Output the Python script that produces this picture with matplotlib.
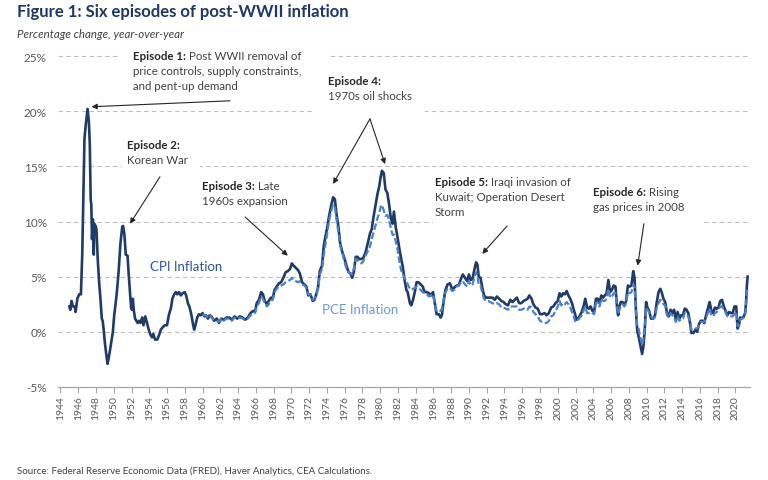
import numpy as np
import matplotlib.pyplot as plt
from matplotlib.patches import Rectangle

plt.rcParams['font.family'] = ['Lato', 'DejaVu Sans']

# CPI inflation, percent change year-over-year
cpi_year = [
    1945.00, 1945.10, 1945.25, 1945.40, 1945.60, 1945.70, 1945.90, 1946.10, 1946.30, 1946.45,
    1946.55, 1946.70, 1946.85, 1947.05, 1947.20, 1947.30, 1947.40, 1947.47, 1947.55, 1947.65,
    1947.75, 1947.80, 1947.95, 1948.05, 1948.20, 1948.35, 1948.50, 1948.65, 1948.75, 1948.85,
    1949.00, 1949.15, 1949.30, 1949.40, 1949.55, 1949.75, 1949.90, 1950.05, 1950.20, 1950.35,
    1950.55, 1950.75, 1950.95, 1951.05, 1951.20, 1951.35, 1951.55, 1951.70, 1951.85, 1951.95,
    1952.05, 1952.15, 1952.25, 1952.40, 1952.55, 1952.70, 1952.85, 1953.00, 1953.20, 1953.35,
    1953.55, 1953.75, 1953.90, 1954.10, 1954.30, 1954.45, 1954.65, 1954.90, 1955.10, 1955.30,
    1955.50, 1955.75, 1956.00, 1956.20, 1956.45, 1956.60, 1956.80, 1957.00, 1957.15, 1957.35,
    1957.55, 1957.75, 1958.00, 1958.15, 1958.35, 1958.55, 1958.75, 1958.90, 1959.05, 1959.20,
    1959.40, 1959.60, 1959.80, 1960.00, 1960.20, 1960.40, 1960.60, 1960.80, 1961.00, 1961.30,
    1961.60, 1961.85, 1962.10, 1962.40, 1962.70, 1963.00, 1963.30, 1963.60, 1963.90, 1964.20,
    1964.50, 1964.80, 1965.10, 1965.40, 1965.70, 1965.90, 1966.10, 1966.35, 1966.60, 1966.80,
    1967.00, 1967.25, 1967.45, 1967.70, 1967.90, 1968.10, 1968.35, 1968.60, 1968.85, 1969.10,
    1969.35, 1969.60, 1969.85, 1970.05, 1970.25, 1970.50, 1970.75, 1970.95, 1971.20, 1971.45,
    1971.70, 1971.90, 1972.15, 1972.40, 1972.60, 1972.80, 1973.00, 1973.20, 1973.45, 1973.65,
    1973.85, 1974.05, 1974.25, 1974.50, 1974.70, 1974.90, 1975.10, 1975.30, 1975.50, 1975.75,
    1976.00, 1976.20, 1976.45, 1976.65, 1976.85, 1977.05, 1977.25, 1977.45, 1977.65, 1977.90,
    1978.10, 1978.35, 1978.60, 1978.85, 1979.05, 1979.25, 1979.50, 1979.70, 1979.90, 1980.05,
    1980.20, 1980.40, 1980.60, 1980.80, 1981.00, 1981.20, 1981.40, 1981.55, 1981.75, 1981.95,
    1982.15, 1982.35, 1982.55, 1982.75, 1982.95, 1983.10, 1983.35, 1983.50, 1983.70, 1983.95,
    1984.10, 1984.30, 1984.55, 1984.80, 1985.00, 1985.25, 1985.50, 1985.75, 1985.95, 1986.15,
    1986.35, 1986.60, 1986.80, 1986.95, 1987.15, 1987.35, 1987.60, 1987.85, 1988.10, 1988.35,
    1988.60, 1988.85, 1989.05, 1989.30, 1989.55, 1989.80, 1990.00, 1990.20, 1990.40, 1990.60,
    1990.80, 1990.95, 1991.10, 1991.30, 1991.55, 1991.70, 1991.90, 1992.15, 1992.40, 1992.65,
    1992.90, 1993.15, 1993.40, 1993.65, 1993.90, 1994.15, 1994.40, 1994.65, 1994.90, 1995.15,
    1995.40, 1995.65, 1995.90, 1996.15, 1996.40, 1996.60, 1996.80, 1997.05, 1997.25, 1997.50,
    1997.75, 1998.00, 1998.25, 1998.50, 1998.75, 1999.00, 1999.25, 1999.50, 1999.75, 2000.00,
    2000.20, 2000.40, 2000.60, 2000.80, 2001.00, 2001.20, 2001.40, 2001.60, 2001.80, 2001.95,
    2002.10, 2002.30, 2002.50, 2002.70, 2002.90, 2003.10, 2003.30, 2003.50, 2003.70, 2003.90,
    2004.10, 2004.30, 2004.50, 2004.70, 2004.90, 2005.10, 2005.30, 2005.50, 2005.70, 2005.90,
    2006.10, 2006.30, 2006.50, 2006.70, 2006.80, 2006.95, 2007.10, 2007.30, 2007.50, 2007.70,
    2007.90, 2008.10, 2008.30, 2008.50, 2008.65, 2008.80, 2008.95, 2009.10, 2009.30, 2009.50,
    2009.65, 2009.80, 2009.95, 2010.10, 2010.30, 2010.50, 2010.75, 2010.95, 2011.15, 2011.35,
    2011.55, 2011.70, 2011.90, 2012.10, 2012.30, 2012.50, 2012.70, 2012.90, 2013.10, 2013.30,
    2013.50, 2013.70, 2013.90, 2014.10, 2014.30, 2014.50, 2014.70, 2014.90, 2015.05, 2015.30,
    2015.50, 2015.70, 2015.90, 2016.10, 2016.30, 2016.50, 2016.70, 2016.90, 2017.10, 2017.30,
    2017.50, 2017.70, 2017.90, 2018.10, 2018.30, 2018.50, 2018.70, 2018.90, 2019.10, 2019.30,
    2019.50, 2019.70, 2019.90, 2020.10, 2020.25, 2020.40, 2020.55, 2020.75, 2020.95, 2021.10,
    2021.20, 2021.30, 2021.38,
]
cpi_value = [
    2.3, 2.0, 2.8, 2.3, 2.3, 1.8, 3.0, 3.4, 3.4, 7.0,
    11.0, 17.5, 18.8, 20.2, 19.0, 17.0, 12.0, 11.5, 8.4, 10.2,
    7.0, 9.8, 9.6, 9.3, 6.5, 4.5, 3.0, 1.2, 1.0, 0.3,
    -1.0, -2.0, -2.9, -2.5, -1.8, -0.8, 0.0, 1.5, 2.5, 3.6,
    5.5, 8.0, 9.5, 9.6, 8.8, 7.0, 6.9, 5.0, 3.3, 2.2,
    2.0, 3.0, 2.0, 1.2, 1.0, 0.8, 1.0, 0.8, 1.3, 0.6,
    1.4, 0.8, 0.3, -0.2, -0.5, -0.2, -0.7, -0.7, -0.3, 0.2,
    0.4, 0.6, 0.6, 1.5, 2.2, 3.0, 3.4, 3.6, 3.4, 3.6,
    3.3, 3.5, 3.6, 3.3, 2.6, 2.2, 1.5, 0.8, 0.2, 0.6,
    1.3, 1.6, 1.5, 1.7, 1.4, 1.5, 1.2, 1.5, 1.4, 1.0,
    1.2, 0.8, 1.2, 1.1, 1.3, 1.3, 1.1, 1.4, 1.2, 1.4,
    1.3, 1.1, 1.3, 1.7, 1.9, 1.8, 2.6, 2.9, 3.6, 3.4,
    2.8, 2.5, 2.8, 3.1, 3.0, 3.8, 4.1, 4.4, 4.5, 4.9,
    5.4, 5.5, 5.7, 6.2, 6.0, 5.8, 5.6, 5.3, 4.5, 4.3,
    4.1, 3.3, 3.4, 2.8, 2.9, 3.4, 4.0, 5.5, 6.0, 7.8,
    8.7, 9.5, 10.5, 11.5, 12.2, 12.0, 10.6, 9.5, 8.0, 7.2,
    6.6, 6.0, 5.4, 5.3, 4.9, 5.5, 6.8, 6.8, 6.6, 6.6,
    6.7, 7.2, 8.0, 8.9, 9.3, 10.4, 11.6, 12.5, 13.2, 14.0,
    14.6, 14.4, 12.9, 12.6, 11.6, 10.3, 9.8, 10.9, 9.5, 8.6,
    7.6, 6.7, 5.9, 4.7, 3.8, 3.6, 2.6, 2.4, 2.9, 3.8,
    4.5, 4.5, 4.3, 4.1, 3.6, 3.6, 3.5, 3.3, 3.6, 2.6,
    1.6, 1.6, 1.3, 1.5, 2.8, 3.8, 4.3, 4.4, 3.9, 4.0,
    4.2, 4.2, 4.7, 5.2, 4.9, 4.6, 5.2, 4.7, 4.8, 5.6,
    6.3, 6.1, 5.0, 4.9, 3.8, 3.3, 3.1, 3.1, 3.1, 3.1,
    2.9, 3.2, 3.0, 2.8, 2.7, 2.5, 2.4, 2.9, 2.7, 2.9,
    3.1, 2.6, 2.6, 2.8, 2.9, 3.0, 3.3, 3.0, 2.5, 2.2,
    2.1, 1.6, 1.6, 1.7, 1.5, 1.7, 2.2, 2.3, 2.6, 2.8,
    3.5, 3.2, 3.5, 3.4, 3.7, 3.3, 3.0, 2.6, 2.0, 1.6,
    1.1, 1.2, 1.5, 1.8, 2.3, 3.0, 2.2, 2.1, 2.3, 1.9,
    1.8, 3.0, 3.0, 2.6, 3.3, 3.1, 3.3, 3.5, 4.7, 3.6,
    3.8, 4.2, 4.1, 2.0, 1.5, 2.3, 2.7, 2.7, 2.4, 2.8,
    4.2, 4.1, 4.2, 5.5, 4.9, 2.0, 0.1, -0.4, -1.2, -2.0,
    -1.3, 0.2, 2.7, 2.2, 1.9, 1.2, 1.2, 1.5, 2.7, 3.6,
    3.9, 3.6, 3.0, 2.7, 1.7, 1.4, 2.0, 1.7, 2.0, 1.1,
    1.8, 1.2, 1.5, 1.5, 2.1, 2.0, 1.7, 0.8, -0.1, -0.1,
    0.2, 0.0, 0.7, 1.0, 1.0, 0.8, 1.5, 2.1, 2.7, 1.9,
    1.7, 2.2, 2.1, 2.2, 2.8, 2.9, 2.3, 1.9, 1.5, 1.8,
    1.7, 1.7, 2.3, 2.3, 0.3, 0.6, 1.3, 1.2, 1.4, 1.7,
    2.6, 4.2, 5.0,
]

# PCE inflation, percent change year-over-year
pce_year = cpi_year[93:]
pce_value = [
    1.6, 1.5, 1.5, 1.3, 1.5, 1.3, 1.1,
    1.0, 0.9, 1.2, 1.0, 1.2, 1.2, 1.0, 1.3, 1.2, 1.3,
    1.2, 1.1, 1.2, 1.5, 1.6, 1.7, 2.3, 2.6, 3.2, 3.0,
    2.6, 2.3, 2.5, 2.8, 2.9, 3.6, 3.9, 4.1, 4.2, 4.3,
    4.5, 4.6, 4.7, 4.9, 4.7, 4.6, 4.5, 4.6, 4.3, 4.2,
    4.0, 3.4, 3.4, 2.9, 3.0, 3.4, 3.9, 5.2, 5.7, 7.0,
    8.0, 9.0, 10.1, 11.0, 11.5, 11.3, 10.1, 9.0, 7.8, 7.1,
    6.3, 5.7, 5.4, 5.3, 5.2, 5.8, 6.6, 6.5, 6.3, 6.2,
    6.4, 6.9, 7.3, 7.7, 8.4, 9.0, 9.7, 10.3, 10.8, 11.3,
    11.5, 11.0, 10.5, 10.6, 10.2, 9.4, 8.8, 8.8, 8.2, 7.5,
    6.5, 5.6, 5.3, 4.8, 4.7, 4.3, 3.9, 3.8, 3.9, 4.0,
    4.1, 4.0, 3.8, 3.6, 3.5, 3.4, 3.2, 3.3, 3.4, 2.6,
    1.9, 2.0, 1.9, 2.0, 2.9, 3.6, 3.9, 4.0, 3.7, 3.8,
    4.1, 4.2, 4.4, 4.6, 4.3, 4.1, 4.6, 4.2, 4.3, 4.9,
    5.4, 5.1, 4.3, 4.2, 3.4, 3.0, 2.8, 2.8, 2.7, 2.6,
    2.5, 2.6, 2.5, 2.2, 2.2, 2.1, 2.0, 2.3, 2.3, 2.3,
    2.3, 2.0, 2.0, 2.1, 2.1, 2.0, 2.3, 2.2, 1.8, 1.6,
    1.4, 1.0, 0.9, 0.8, 0.8, 1.0, 1.4, 1.5, 1.9, 2.3,
    2.8, 2.4, 2.6, 2.5, 2.7, 2.5, 2.2, 1.8, 1.4, 1.0,
    0.9, 1.1, 1.3, 1.5, 1.9, 2.3, 1.7, 1.7, 1.8, 1.7,
    1.6, 2.6, 2.6, 2.3, 3.0, 2.8, 2.8, 3.0, 3.9, 3.1,
    3.2, 3.5, 3.5, 2.1, 1.6, 2.1, 2.3, 2.5, 2.3, 2.6,
    3.6, 3.5, 3.6, 4.3, 4.1, 2.0, 0.5, 0.3, -0.5, -1.2,
    -0.7, 0.3, 2.2, 2.0, 1.8, 1.4, 1.2, 1.3, 2.2, 2.6,
    2.9, 2.8, 2.5, 2.4, 1.5, 1.3, 1.7, 1.5, 1.3, 0.9,
    1.4, 1.0, 1.2, 1.2, 1.7, 1.6, 1.4, 0.8, 0.2, 0.2,
    0.3, 0.3, 0.6, 0.9, 0.9, 0.9, 1.3, 1.7, 2.1, 1.5,
    1.4, 1.7, 1.8, 2.0, 2.3, 2.3, 2.0, 1.8, 1.4, 1.4,
    1.4, 1.4, 1.6, 1.8, 0.5, 0.6, 1.1, 1.2, 1.3, 1.5,
    2.4, 3.6, 3.9,
]

tick_years = list(range(1944, 2021, 2))
grid_levels = [0, 5, 10, 15, 20, 25]

navy = '#1f3864'
cpi_color = '#1f3b67'
pce_color = '#4a80c6'
gray = '#595959'

fig = plt.figure(figsize=(7.68, 4.81), dpi=100)
ax = fig.add_axes([58 / 768, 1 - 388 / 481, 692 / 768, 331 / 481])
ax.set_xlim(1943.72, 2021.65)
ax.set_ylim(-5, 25)

for lvl in grid_levels:
    ax.axhline(lvl, color='#bfbfbf', lw=0.8, ls=(0, (4, 3)), zorder=0, clip_on=False)

# white boxes behind the annotation text (they break the grid lines)
for (x0, x1, y0, y1) in [(1950.7, 1974.1, 21.5, 26.0), (1950.9, 1959.7, 14.5, 17.8),
                         (1972.7, 1985.05, 19.3, 23.5), (1986.0, 2016.35, 9.5, 14.2)]:
    ax.add_patch(Rectangle((x0, y0), x1 - x0, y1 - y0, facecolor='white',
                           edgecolor='none', zorder=1, clip_on=False))

ax.plot(cpi_year, cpi_value, color=cpi_color, lw=1.9, zorder=3, solid_joinstyle='round')
ax.plot(pce_year, pce_value, color=pce_color, lw=1.6, ls=(0, (3, 1.2)), zorder=4)

for side in ['left', 'right', 'top']:
    ax.spines[side].set_visible(False)
ax.spines['bottom'].set_color('#a6a6a6')
ax.spines['bottom'].set_linewidth(0.9)

ax.set_xticks(tick_years)
ax.set_xticklabels([str(y) for y in tick_years], rotation=90, fontsize=7.5, color=gray)
ax.tick_params(axis='x', direction='out', length=4, width=0.8, color='#a6a6a6', pad=2)
ax.set_yticks([-5, 0, 5, 10, 15, 20, 25])
ax.set_yticklabels(['-5%', '0%', '5%', '10%', '15%', '20%', '25%'], fontsize=8.5, color=gray)
ax.tick_params(axis='y', length=0, pad=8)

def episode(x, y, head, lines, size=8.3):
    t = ax.text(x, y, head, fontsize=size, fontweight='bold', color='#262626',
                ha='left', va='baseline', zorder=5)
    if lines[0]:
        ax.annotate(' ' + lines[0], xy=(1, 0), xycoords=t, va='bottom', ha='left',
                    fontsize=size, color='#404040', zorder=5)
    for i, line in enumerate(lines[1:], 1):
        ax.annotate(line, xy=(0, 0), xycoords=t, xytext=(0, -i * 10.8),
                    textcoords='offset points', va='bottom', ha='left',
                    fontsize=size, color='#404040', zorder=5)

def arrow(tail, head):
    ax.annotate('', xy=head, xytext=tail, zorder=6,
                arrowprops=dict(arrowstyle='-|>', color='#262626', lw=0.8,
                                mutation_scale=8, shrinkA=0, shrinkB=0))

episode(1952.17, 24.75, 'Episode 1:', ['Post WWII removal of',
                                       'price controls, supply constraints,',
                                       'and pent-up demand'])
episode(1951.49, 16.68, 'Episode 2:', ['', 'Korean War'])
episode(1959.93, 12.96, 'Episode 3:', ['Late', '1960s expansion'])
episode(1974.12, 22.48, 'Episode 4:', ['', '1970s oil shocks'])
episode(1986.17, 13.28, 'Episode 5:', ['Iraqi invasion of', 'Kuwait; Operation Desert', 'Storm'])
episode(2003.97, 12.38, 'Episode 6:', ['Rising', 'gas prices in 2008'])

arrow((1963.09, 20.94), (1947.5, 20.4))
arrow((1955.2, 14.05), (1951.83, 9.8))
arrow((1964.8, 10.4), (1969.6, 6.9))
arrow((1978.85, 19.3), (1974.7, 13.4))
arrow((1978.85, 19.3), (1980.55, 15.2))
arrow((1994.3, 9.6), (1991.5, 7.07))
arrow((2009.7, 9.8), (2009.0, 6.0))

ax.text(1954.1, 5.98, 'CPI Inflation', fontsize=9.5, color='#2f5597', ha='left', va='center')
ax.text(1973.45, 2.08, 'PCE Inflation', fontsize=9.5, color='#6b9bd2', ha='left', va='center')

fig.text(17 / 768, 1 - 12 / 481, 'Figure 1: Six episodes of post-WWII inflation',
         fontsize=12, fontweight='bold', color=navy, ha='left', va='center')
fig.text(17 / 768, 1 - 35 / 481, 'Percentage change, year-over-year',
         fontsize=8.3, fontstyle='italic', color='#404040', ha='left', va='center')
fig.text(17 / 768, 1 - 471 / 481,
         'Source: Federal Reserve Economic Data (FRED), Haver Analytics, CEA Calculations.',
         fontsize=7, color='#404040', ha='left', va='center')

fig.savefig('out.png', dpi=100)
